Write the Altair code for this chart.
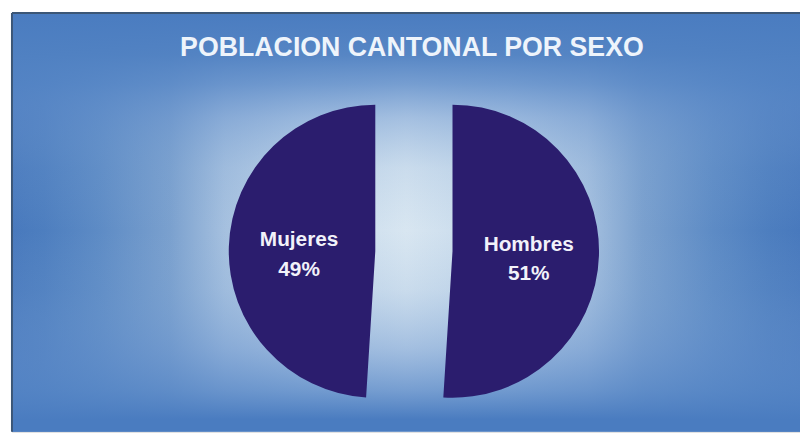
import altair as alt
import pandas as pd

sexo = ["Hombres", "Mujeres"]
porcentaje = [51, 49]
orden = [0, 1]

df = pd.DataFrame({"sexo": sexo, "pct": porcentaje, "orden": orden})

SLICE = "#2b1d6e"
OFF_Y = 29
OFF = {"Hombres": 47, "Mujeres": -31}

base = (
    alt.Chart(df)
    .transform_window(fin="sum(pct)", sort=[alt.SortField("orden")], frame=[None, 0])
    .transform_calculate(
        inicio="datum.fin - datum.pct",
        medio="(datum.fin + datum.fin - datum.pct) / 2",
        etiqueta="datum.sexo + '\\n' + datum.pct + '%'",
    )
)

theta_scale = alt.Scale(domain=[0, 100])
one = base.transform_aggregate(n="count()")
full = dict(x=alt.value(0), x2=alt.value("width"), y=alt.value(0), y2=alt.value("height"))

def hs(c, o):
    return alt.GradientStop(color=c, offset=o)

bg_h = one.mark_rect(
    fill=alt.Gradient(
        gradient="linear", x1=0, y1=0, x2=1, y2=0,
        stops=[
            hs("#4879bd", 0), hs("#4d7ebf", 0.04), hs("#5d8bc5", 0.11),
            hs("#7aa0ce", 0.2), hs("#a5c0df", 0.27), hs("#c2d6ea", 0.37),
            hs("#d8e6f1", 0.5),
            hs("#c2d6ea", 0.63), hs("#a5c0df", 0.73), hs("#7aa0ce", 0.8),
            hs("#5d8bc5", 0.89), hs("#4d7ebf", 0.96), hs("#4879bd", 1),
        ],
    )
).encode(**full)

bg_v = one.mark_rect(
    fill=alt.Gradient(
        gradient="linear", x1=0, y1=0, x2=0, y2=1,
        stops=[
            hs("rgba(74,124,192,1)", 0), hs("rgba(80,129,194,0.95)", 0.1),
            hs("rgba(86,134,198,0.75)", 0.17), hs("rgba(100,144,204,0.45)", 0.25),
            hs("rgba(120,160,210,0.15)", 0.37), hs("rgba(140,175,215,0)", 0.52),
            hs("rgba(120,160,210,0.15)", 0.66), hs("rgba(100,144,204,0.45)", 0.8),
            hs("rgba(86,134,198,0.75)", 0.9), hs("rgba(74,124,192,1)", 0.97),
            hs("rgba(74,124,192,1)", 1),
        ],
    )
).encode(**full)

border_left = one.mark_rule(color="#3b5676", strokeWidth=2).encode(
    x=alt.value(0), y=alt.value(0), y2=alt.value("height")
)
border_top = one.mark_rule(color="#3b5676", strokeWidth=2).encode(
    y=alt.value(0), x=alt.value(0), x2=alt.value("width")
)

layers = [bg_h, bg_v, border_left, border_top]
for s in sexo:
    arc = (
        base.transform_filter(alt.datum.sexo == s)
        .mark_arc(color=SLICE, outerRadius=148, xOffset=OFF[s], yOffset=OFF_Y)
        .encode(
            theta=alt.Theta("inicio:Q", scale=theta_scale),
            theta2="fin:Q",
        )
    )
    txt = (
        base.transform_filter(alt.datum.sexo == s)
        .mark_text(
            radius=77, xOffset=OFF[s], yOffset=OFF_Y, dy=-9, lineBreak="\n",
            font="Liberation Sans", fontWeight="bold", fontSize=21,
            lineHeight=30, color="#f2f2fa", align="center", baseline="middle",
        )
        .encode(
            theta=alt.Theta("medio:Q", scale=theta_scale),
            text="etiqueta:N",
        )
    )
    layers += [arc, txt]

chart = (
    alt.layer(*layers)
    .properties(
        width=796,
        height=423,
        padding={"left": 4, "top": 3, "right": 0, "bottom": 0},
        autosize=alt.AutoSizeParams(type="none"),
        title=alt.TitleParams(
            "POBLACION CANTONAL POR SEXO",
            font="Liberation Sans", fontSize=27, fontWeight="bold",
            color="#eef4fb", anchor="middle", frame="group",
            baseline="alphabetic", offset=-71, dx=6,
        ),
    )
    .configure_view(stroke=None)
    .configure(background="white")
)

chart.save("out.html", embed_options={"renderer": "svg", "actions": False})
